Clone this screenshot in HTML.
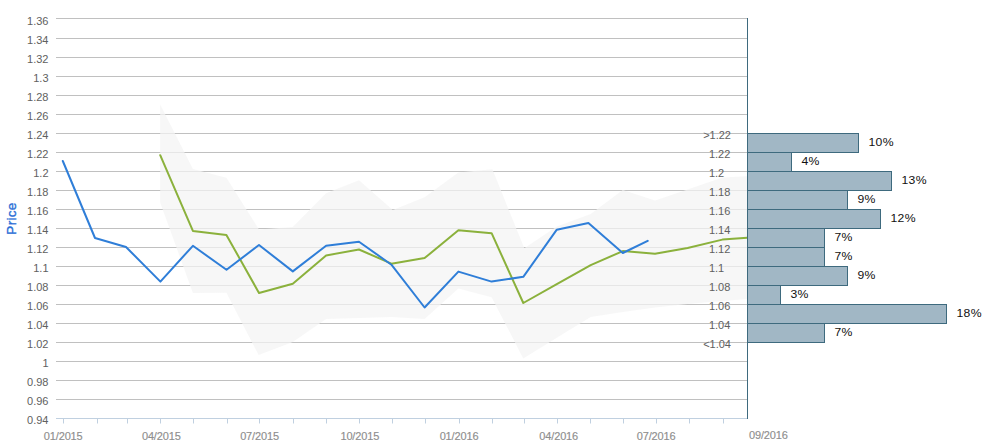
<!DOCTYPE html>
<html><head><meta charset="utf-8"><style>
html,body{margin:0;padding:0;background:#fff;}
body{width:994px;height:444px;overflow:hidden;}
svg{display:block;}
text{font-family:"Liberation Sans", sans-serif;}
.yl{font-size:11px;fill:#606060;}
.xl{font-size:11px;fill:#8e8e8e;stroke:#8e8e8e;stroke-width:0.15px;letter-spacing:-0.15px;}
.yt{font-size:13.5px;fill:#2a6ed6;stroke:#2a6ed6;stroke-width:0.35px;letter-spacing:0.3px;}
.pl{font-size:11.2px;fill:#111;letter-spacing:0.4px;}
</style></head><body>
<svg width="994" height="444" viewBox="0 0 994 444">
<rect x="0" y="0" width="994" height="444" fill="#fff"/>
<path d="M56 18.5H747 M56 38.5H747 M56 57.5H747 M56 76.5H747 M56 95.5H747 M56 114.5H747 M56 133.5H747 M56 152.5H747 M56 171.5H747 M56 190.5H747 M56 209.5H747 M56 228.5H747 M56 247.5H747 M56 266.5H747 M56 285.5H747 M56 304.5H747 M56 323.5H747 M56 342.5H747 M56 361.5H747 M56 380.5H747 M56 399.5H747" stroke="#c0c0c0" stroke-width="1" fill="none"/>
<path d="M160.2 104.6 L192.9 169.0 L226.4 177.7 L259.0 229.4 L292.8 227.1 L326.1 193.3 L359.0 180.3 L392.8 209.9 L424.6 197.3 L458.4 172.5 L492.4 169.3 L524.3 248.3 L556.8 226.6 L590.7 214.0 L622.8 190.0 L655.0 200.5 L687.6 189.6 L722.4 177.6 L747.3 176.2 L747.3 299.0 L722.4 301.0 L687.6 304.0 L655.0 307.4 L622.8 312.0 L590.7 317.1 L556.8 337.7 L523.3 358.4 L491.6 297.2 L458.4 288.5 L424.6 319.1 L391.4 317.1 L359.0 318.0 L326.1 318.9 L292.8 341.9 L258.6 355.0 L226.4 292.7 L192.9 293.0 L160.2 202.5 Z" fill="#f4f4f4" fill-opacity="0.72" stroke="none"/>
<path d="M160.2 155.2 L192.9 230.9 L226.4 234.9 L259.0 293.0 L292.8 283.8 L326.1 255.4 L359.0 249.5 L391.4 263.7 L424.6 258.1 L458.4 230.3 L491.6 233.2 L523.3 303.0 L556.8 284.2 L590.7 265.1 L622.8 251.1 L655.0 253.7 L687.6 248.0 L722.4 239.6 L747.3 237.7" stroke="#8bb13c" stroke-width="2" fill="none" stroke-linejoin="round" stroke-linecap="round"/>
<path d="M62.8 161.0 L95.0 238.0 L126.0 247.0 L160.4 281.6 L192.9 245.8 L226.5 269.8 L259.0 245.0 L292.8 271.4 L326.1 245.7 L359.0 241.7 L391.4 264.7 L424.6 307.5 L458.4 271.6 L491.6 281.6 L523.3 276.8 L556.8 229.7 L588.4 223.0 L622.8 253.0 L647.7 240.8" stroke="#2f7ed8" stroke-width="2" fill="none" stroke-linejoin="round" stroke-linecap="round"/>
<path d="M56 418.5H747" stroke="#c0d0e0" stroke-width="1"/>
<path d="M63.5 418.5V423.5 M97.5 418.5V423.5 M127.5 418.5V423.5 M160.5 418.5V423.5 M193.5 418.5V423.5 M227.5 418.5V423.5 M259.5 418.5V423.5 M293.5 418.5V423.5 M326.5 418.5V423.5 M359.5 418.5V423.5 M392.5 418.5V423.5 M425.5 418.5V423.5 M459.5 418.5V423.5 M492.5 418.5V423.5 M524.5 418.5V423.5 M557.5 418.5V423.5 M590.5 418.5V423.5 M623.5 418.5V423.5 M656.5 418.5V423.5 M689.5 418.5V423.5 M723.5 418.5V423.5" stroke="#c0d0e0" stroke-width="1"/>
<text x="63.20" y="440" text-anchor="middle" class="xl">01/2015</text>
<text x="161.30" y="440" text-anchor="middle" class="xl">04/2015</text>
<text x="259.50" y="440" text-anchor="middle" class="xl">07/2015</text>
<text x="359.80" y="440" text-anchor="middle" class="xl">10/2015</text>
<text x="459.00" y="440" text-anchor="middle" class="xl">01/2016</text>
<text x="558.70" y="440" text-anchor="middle" class="xl">04/2016</text>
<text x="656.10" y="440" text-anchor="middle" class="xl">07/2016</text>
<text x="749" y="439" text-anchor="start" class="xl">09/2016</text>
<text x="48.5" y="24.80" text-anchor="end" class="yl">1.36</text>
<text x="48.5" y="43.80" text-anchor="end" class="yl">1.34</text>
<text x="48.5" y="62.80" text-anchor="end" class="yl">1.32</text>
<text x="48.5" y="81.80" text-anchor="end" class="yl">1.3</text>
<text x="48.5" y="100.80" text-anchor="end" class="yl">1.28</text>
<text x="48.5" y="119.80" text-anchor="end" class="yl">1.26</text>
<text x="48.5" y="138.80" text-anchor="end" class="yl">1.24</text>
<text x="48.5" y="157.80" text-anchor="end" class="yl">1.22</text>
<text x="48.5" y="176.80" text-anchor="end" class="yl">1.2</text>
<text x="48.5" y="195.80" text-anchor="end" class="yl">1.18</text>
<text x="48.5" y="214.80" text-anchor="end" class="yl">1.16</text>
<text x="48.5" y="233.80" text-anchor="end" class="yl">1.14</text>
<text x="48.5" y="252.80" text-anchor="end" class="yl">1.12</text>
<text x="48.5" y="271.80" text-anchor="end" class="yl">1.1</text>
<text x="48.5" y="290.80" text-anchor="end" class="yl">1.08</text>
<text x="48.5" y="309.80" text-anchor="end" class="yl">1.06</text>
<text x="48.5" y="328.80" text-anchor="end" class="yl">1.04</text>
<text x="48.5" y="347.80" text-anchor="end" class="yl">1.02</text>
<text x="48.5" y="366.80" text-anchor="end" class="yl">1</text>
<text x="48.5" y="385.80" text-anchor="end" class="yl">0.98</text>
<text x="48.5" y="404.80" text-anchor="end" class="yl">0.96</text>
<text x="48.5" y="423.80" text-anchor="end" class="yl">0.94</text>
<text x="0" y="0" transform="translate(16.0 218.5) rotate(-90)" text-anchor="middle" class="yt">Price</text>
<rect x="747.5" y="133.5" width="111.0" height="19.0" fill="#a1b7c5" stroke="#3e6a7e" stroke-width="1"/>
<text transform="translate(868.4 146.4) scale(1.09 1)" class="pl">10%</text>
<rect x="747.5" y="152.5" width="44.0" height="19.0" fill="#a1b7c5" stroke="#3e6a7e" stroke-width="1"/>
<text transform="translate(801.4 165.4) scale(1.09 1)" class="pl">4%</text>
<rect x="747.5" y="171.5" width="144.0" height="19.0" fill="#a1b7c5" stroke="#3e6a7e" stroke-width="1"/>
<text transform="translate(901.4 184.4) scale(1.09 1)" class="pl">13%</text>
<rect x="747.5" y="190.5" width="100.0" height="19.0" fill="#a1b7c5" stroke="#3e6a7e" stroke-width="1"/>
<text transform="translate(857.4 203.4) scale(1.09 1)" class="pl">9%</text>
<rect x="747.5" y="209.5" width="133.0" height="19.0" fill="#a1b7c5" stroke="#3e6a7e" stroke-width="1"/>
<text transform="translate(890.4 222.4) scale(1.09 1)" class="pl">12%</text>
<rect x="747.5" y="228.5" width="77.0" height="19.0" fill="#a1b7c5" stroke="#3e6a7e" stroke-width="1"/>
<text transform="translate(834.4 241.4) scale(1.09 1)" class="pl">7%</text>
<rect x="747.5" y="247.5" width="77.0" height="19.0" fill="#a1b7c5" stroke="#3e6a7e" stroke-width="1"/>
<text transform="translate(834.4 260.4) scale(1.09 1)" class="pl">7%</text>
<rect x="747.5" y="266.5" width="100.0" height="19.0" fill="#a1b7c5" stroke="#3e6a7e" stroke-width="1"/>
<text transform="translate(857.4 279.4) scale(1.09 1)" class="pl">9%</text>
<rect x="747.5" y="285.5" width="33.0" height="19.0" fill="#a1b7c5" stroke="#3e6a7e" stroke-width="1"/>
<text transform="translate(790.4 298.4) scale(1.09 1)" class="pl">3%</text>
<rect x="747.5" y="304.5" width="199.0" height="19.0" fill="#a1b7c5" stroke="#3e6a7e" stroke-width="1"/>
<text transform="translate(956.4 317.4) scale(1.09 1)" class="pl">18%</text>
<rect x="747.5" y="323.5" width="77.0" height="19.0" fill="#a1b7c5" stroke="#3e6a7e" stroke-width="1"/>
<text transform="translate(834.4 336.4) scale(1.09 1)" class="pl">7%</text>
<text x="731" y="139.3" text-anchor="end" class="yl">&gt;1.22</text>
<text x="708.9" y="158.3" text-anchor="start" class="yl">1.22</text>
<text x="708.9" y="177.3" text-anchor="start" class="yl">1.2</text>
<text x="708.9" y="196.3" text-anchor="start" class="yl">1.18</text>
<text x="708.9" y="215.3" text-anchor="start" class="yl">1.16</text>
<text x="708.9" y="234.3" text-anchor="start" class="yl">1.14</text>
<text x="708.9" y="253.3" text-anchor="start" class="yl">1.12</text>
<text x="708.9" y="272.3" text-anchor="start" class="yl">1.1</text>
<text x="708.9" y="291.3" text-anchor="start" class="yl">1.08</text>
<text x="708.9" y="310.3" text-anchor="start" class="yl">1.06</text>
<text x="708.9" y="329.3" text-anchor="start" class="yl">1.04</text>
<text x="731" y="348.3" text-anchor="end" class="yl">&lt;1.04</text>
<path d="M747.5 18V419.0" stroke="#3e6a7e" stroke-width="1"/>
</svg>
</body></html>
